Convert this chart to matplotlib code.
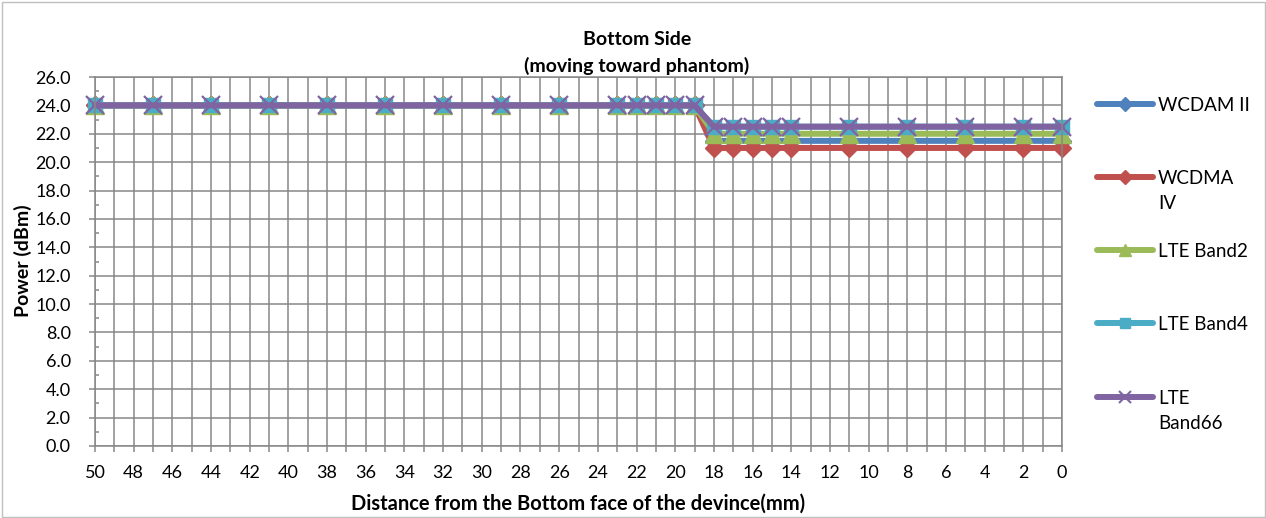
import matplotlib
matplotlib.use("Agg")
import matplotlib.pyplot as plt
from matplotlib.lines import Line2D
from matplotlib.patches import Rectangle
from matplotlib.ticker import MultipleLocator, FormatStrFormatter

# distance from the bottom face (mm) and conducted power (dBm)
distance = [50, 47, 44, 41, 38, 35, 32, 29, 26, 23, 22, 21, 20, 19,
            18, 17, 16, 15, 14, 11, 8, 5, 2, 0]
wcdma_2 = [24.0, 24.0, 24.0, 24.0, 24.0, 24.0, 24.0, 24.0, 24.0, 24.0, 24.0, 24.0, 24.0, 24.0,
           21.5, 21.5, 21.5, 21.5, 21.5, 21.5, 21.5, 21.5, 21.5, 21.5]
wcdma_4 = [24.0, 24.0, 24.0, 24.0, 24.0, 24.0, 24.0, 24.0, 24.0, 24.0, 24.0, 24.0, 24.0, 24.0,
           21.0, 21.0, 21.0, 21.0, 21.0, 21.0, 21.0, 21.0, 21.0, 21.0]
lte_b2 = [24.0, 24.0, 24.0, 24.0, 24.0, 24.0, 24.0, 24.0, 24.0, 24.0, 24.0, 24.0, 24.0, 24.0,
          22.0, 22.0, 22.0, 22.0, 22.0, 22.0, 22.0, 22.0, 22.0, 22.0]
lte_b4 = [24.0, 24.0, 24.0, 24.0, 24.0, 24.0, 24.0, 24.0, 24.0, 24.0, 24.0, 24.0, 24.0, 24.0,
          22.5, 22.5, 22.5, 22.5, 22.5, 22.5, 22.5, 22.5, 22.5, 22.5]
lte_b66 = [24.0, 24.0, 24.0, 24.0, 24.0, 24.0, 24.0, 24.0, 24.0, 24.0, 24.0, 24.0, 24.0, 24.0,
           22.5, 22.5, 22.5, 22.5, 22.5, 22.5, 22.5, 22.5, 22.5, 22.5]

names = ["WCDAM II", "WCDMA\nIV", "LTE Band2", "LTE Band4", "LTE\nBand66"]
series = [wcdma_2, wcdma_4, lte_b2, lte_b4, lte_b66]

colors = ["#4F81BD", "#C0504D", "#9BBB59", "#4BACC6", "#8064A2"]
markers = ["D", "D", "^", "s", "x"]
msizes = [9.5, 9.5, 12.5, 10, 12.5]

plt.rcParams['font.family'] = ['Lato', 'DejaVu Sans']
W, H = 1266, 518
grid_c = "#878787"

fig = plt.figure(figsize=(W / 100, H / 100), dpi=100)
ax = fig.add_axes([95 / W, 1 - 446 / H, (1062 - 95) / W, (446 - 77) / H])

for vals, c, m, ms in zip(series, colors, markers, msizes):
    ax.plot(distance, vals, color=c, lw=4.3, marker=m, ms=ms, mew=1.6 if m == "x" else 1,
            mec=c, mfc=c, clip_on=False, solid_capstyle="round")

ax.set_xlim(50, 0)
ax.set_ylim(0, 26)
ax.xaxis.set_major_locator(MultipleLocator(2))
ax.xaxis.set_minor_locator(MultipleLocator(1))
ax.yaxis.set_major_locator(MultipleLocator(2))
ax.yaxis.set_minor_locator(MultipleLocator(1))
ax.yaxis.set_major_formatter(FormatStrFormatter("%.1f"))

ax.grid(which="major", axis="both", color=grid_c, lw=1.1)
ax.grid(which="minor", axis="x", color=grid_c, lw=1.1)
ax.set_axisbelow(True)
for s in ax.spines.values():
    s.set_color(grid_c)
    s.set_linewidth(1.1)

ax.tick_params(axis="x", which="both", direction="out", length=4.5, width=1.1,
               color=grid_c, pad=9, labelsize=13)
ax.tick_params(axis="y", which="major", direction="out", length=4.5, width=1.1,
               color=grid_c, pad=13, labelsize=13)
ax.tick_params(axis="y", which="minor", direction="in", length=3, width=1.1, color=grid_c)

# titles and axis labels
fig.text(637 / W, 1 - 38 / H, "Bottom Side", ha="center", va="center_baseline",
         fontsize=14, fontweight="bold")
fig.text(637 / W, 1 - 64 / H, "(moving toward phantom)", ha="center", va="center_baseline",
         fontsize=14, fontweight="bold")
fig.text(578 / W, 1 - 502 / H, "Distance from the Bottom face of the devince(mm)",
         ha="center", va="center_baseline", fontsize=14.5, fontweight="bold")
fig.text(23 / W, 1 - 261 / H, "Power (dBm)", ha="center", va="center", rotation=90,
         fontsize=14, fontweight="bold")

# legend, drawn the way the spreadsheet lays it out
legend_y = [104, 177, 250, 323, 397]
for name, c, m, ms, y in zip(names, colors, markers, msizes, legend_y):
    yf = 1 - y / H
    fig.add_artist(Line2D([1097 / W, 1153 / W], [yf, yf], color=c, lw=4.3,
                          solid_capstyle="round", transform=fig.transFigure))
    fig.add_artist(Line2D([1125 / W], [yf], color=c, marker=m, ms=ms * 0.7, ls="none",
                          mew=1.5 if m == "x" else 1, transform=fig.transFigure))
    for i, part in enumerate(name.split("\n")):
        fig.text(1158 / W, 1 - (y + 25 * i) / H, part, ha="left",
                 va="center_baseline", fontsize=13.5)

fig.add_artist(Rectangle((1.5 / W, 1.5 / H), (W - 3) / W, (H - 3) / H, fill=False,
                         ec="#bfbfbf", lw=1, transform=fig.transFigure))

fig.savefig("out.png", dpi=100)
